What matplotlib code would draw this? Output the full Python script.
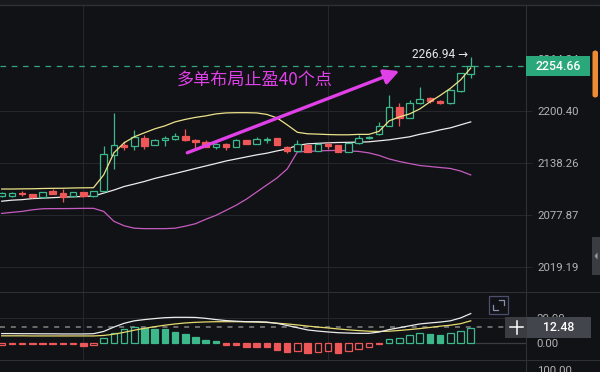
import matplotlib
matplotlib.use('Agg')
import matplotlib.pyplot as plt
import numpy as np
from matplotlib.patches import Rectangle, FancyBboxPatch, Polygon
from matplotlib.lines import Line2D
from matplotlib.ticker import FixedLocator, FixedFormatter, NullLocator

plt.rcParams['font.family'] = ['Roboto', 'DejaVu Sans']

# ---------------- data ----------------
opens = [2099.3, 2099.6, 2102.5, 2101.6, 2098.1, 2104.8, 2102.8, 2098.9, 2104.0, 2099.3,
         2105.1, 2147.5, 2159.1, 2158.2, 2168.1, 2159.4, 2165.7, 2166.2, 2170.2, 2165.0,
         2162.2, 2157.4, 2160.6, 2157.4, 2164.6, 2160.6, 2164.6, 2167.4, 2157.4, 2152.6,
         2159.4, 2152.6, 2160.3, 2158.8, 2151.4, 2161.4, 2167.4, 2172.2, 2182.5, 2205.3,
         2192.0, 2209.5, 2215.6, 2212.7, 2209.5, 2224.9, 2245.4]
highs = [2104.6, 2104.3, 2105.1, 2102.2, 2104.6, 2107.1, 2107.1, 2104.6, 2104.6, 2105.7,
         2158.2, 2197.3, 2163.4, 2177.3, 2171.4, 2166.6, 2170.5, 2173.4, 2178.2, 2166.2,
         2164.6, 2161.2, 2161.4, 2166.0, 2165.2, 2169.3, 2169.3, 2168.0, 2158.0, 2164.6,
         2160.0, 2161.2, 2162.2, 2159.4, 2162.0, 2171.4, 2169.9, 2187.3, 2219.6, 2209.5,
         2213.5, 2229.8, 2217.6, 2213.3, 2226.4, 2246.8, 2266.94]
lows = [2098.1, 2098.7, 2099.6, 2097.5, 2097.5, 2101.6, 2092.6, 2098.4, 2098.7, 2098.7,
        2104.6, 2130.5, 2153.4, 2153.4, 2154.6, 2158.8, 2158.6, 2165.6, 2164.2, 2156.2,
        2156.4, 2154.6, 2153.4, 2157.0, 2160.0, 2160.0, 2161.4, 2158.8, 2149.5, 2152.2,
        2150.8, 2152.0, 2154.3, 2150.8, 2150.8, 2160.9, 2166.8, 2171.6, 2181.9, 2182.5,
        2191.4, 2208.9, 2209.5, 2208.9, 2208.9, 2223.7, 2240.1]
closes = [2103.2, 2103.2, 2101.3, 2098.1, 2104.0, 2102.0, 2098.5, 2104.0, 2099.3, 2105.1,
          2148.3, 2159.4, 2156.7, 2168.6, 2158.6, 2165.4, 2167.4, 2170.2, 2165.4, 2162.2,
          2157.0, 2160.6, 2156.7, 2165.4, 2160.6, 2166.6, 2166.6, 2159.4, 2152.6, 2160.6,
          2151.4, 2160.6, 2158.6, 2151.4, 2161.4, 2167.4, 2169.3, 2182.5, 2204.6, 2192.0,
          2210.2, 2214.7, 2212.7, 2209.5, 2225.8, 2246.2, 2254.66]

boll_upper = [2107.5, 2107.5, 2107.7, 2107.8, 2108.1, 2108.3, 2108.4, 2108.7, 2108.9, 2109.0,
              2123.9, 2149.9, 2161.8, 2169.0, 2173.8, 2178.5, 2182.1, 2186.9, 2189.9, 2192.3,
              2194.1, 2196.5, 2197.7, 2198.0, 2198.0, 2197.7, 2195.9, 2191.7, 2183.3, 2174.4,
              2172.6, 2172.2, 2171.7, 2171.4, 2171.4, 2171.9, 2171.9, 2175.5, 2188.1, 2192.9,
              2196.5, 2202.5, 2211.1, 2219.0, 2227.6, 2238.0, 2252.7]
boll_mid = [2093.4, 2094.6, 2095.2, 2096.4, 2097.0, 2097.5, 2098.1, 2098.5, 2098.9, 2099.3,
            2102.8, 2106.3, 2110.4, 2113.3, 2116.3, 2119.8, 2122.7, 2125.6, 2128.5, 2131.5,
            2134.4, 2137.3, 2140.3, 2142.7, 2145.1, 2147.5, 2149.5, 2152.2, 2154.6, 2158.8,
            2160.6, 2161.2, 2161.8, 2162.2, 2162.4, 2162.6, 2163.0, 2164.2, 2165.4, 2167.2,
            2169.0, 2172.0, 2174.4, 2177.3, 2179.7, 2183.3, 2186.9]
boll_lower = [2079.4, 2080.6, 2081.7, 2083.5, 2084.7, 2084.9, 2084.9, 2085.0, 2085.2, 2085.2,
              2081.7, 2070.4, 2065.3, 2062.5, 2062.0, 2062.0, 2062.0, 2062.5, 2064.8, 2067.6,
              2072.6, 2077.1, 2082.9, 2088.8, 2095.8, 2104.0, 2112.2, 2120.4, 2130.9, 2151.0,
              2151.6, 2152.2, 2152.6, 2152.8, 2152.2, 2151.6, 2149.9, 2146.9, 2142.7, 2139.7,
              2137.3, 2135.0, 2133.8, 2132.6, 2131.5, 2128.5, 2123.9]

macd_dif = [7.3, 7.3, 7.2, 7.2, 7.1, 7.1, 7.0, 7.0, 7.0, 7.2,
            9.0, 12.5, 15.5, 17.5, 18.5, 19.3, 20.0, 20.3, 20.3, 20.2,
            19.5, 18.5, 17.7, 17.2, 16.8, 16.8, 16.5, 15.5, 13.8, 12.0,
            10.2, 9.3, 8.6, 8.0, 7.7, 7.5, 7.5, 8.5, 10.5, 12.0,
            13.5, 15.0, 15.8, 16.5, 17.5, 19.8, 23.3]
macd_dea = [5.5, 5.5, 5.5, 5.4, 5.4, 5.4, 5.4, 5.4, 5.4, 5.4,
            5.8, 6.8, 8.3, 10.0, 11.5, 12.8, 14.0, 15.0, 15.8, 16.3,
            16.6, 16.8, 16.8, 16.8, 16.7, 16.5, 16.2, 15.6, 15.0, 14.2,
            13.3, 12.5, 11.8, 11.0, 10.3, 9.7, 9.2, 9.0, 9.2, 9.8,
            10.5, 11.3, 12.2, 13.2, 14.0, 15.2, 17.5]
macd_hist = [-1.9, -1.3, -1.3, -1.3, -1.3, -1.3, -1.3, -1.3, -2.4, -2.0,
             3.5, 7.5, 11.0, 12.8, 11.5, 11.3, 10.7, 8.8, 7.2, 4.8,
             2.1, 1.0, -2.0, -2.2, -3.5, -3.6, -3.7, -5.9, -7.5, -6.7,
             -8.0, -7.2, -7.0, -8.5, -6.4, -5.3, -3.7, -1.3, 2.7, 3.5,
             6.1, 7.5, 6.9, 6.1, 7.5, 9.6, 11.5]

price_ticks = [2019.19, 2077.87, 2138.26, 2200.40, 2264.34]
price_tick_labels = ['2019.19', '2077.87', '2138.26', '2200.40', '2264.34']
macd_ticks = [0, 20]
macd_tick_labels = ['0.00', '20.00']
time_grid = [8, 32]
last_price = 2254.66
high_label = 2266.94
hist_last = 12.48
note_text = '多单布局止盈40个点'
note_pos = (17.2, 2238.0)
arrow_from = (18.2, 2150.0)
arrow_to = (39.0, 2249.0)

# ---------------- style ----------------
W, H = 600, 372
BG = '#111216'
GRID = '#25272c'
SEP = '#2e3035'
TICK = '#b3b3b3'
GREEN = '#3cb88a'
RED = '#ee5757'
MAG = '#e040e8'
UP_COL = '#ece38a'
MID_COL = '#ececec'
LOW_COL = '#c65bbf'
DASH_GREEN = '#35a57f'

fig = plt.figure(figsize=(W / 100, H / 100), dpi=100, facecolor=BG)

def fx(px):
    return px / W

def fy(py):
    return 1 - py / H

def add_line(xs, ys, color, lw=0.75, z=3, **kw):
    fig.add_artist(Line2D([fx(v) for v in xs], [fy(v) for v in ys],
                          transform=fig.transFigure, color=color, lw=lw, zorder=z, **kw))

def add_rect(x0, y0, x1, y1, fc, ec='none', lw=0, z=5):
    fig.add_artist(Rectangle((fx(x0), fy(y1)), fx(x1 - x0), (y1 - y0) / H,
                             transform=fig.transFigure, facecolor=fc, edgecolor=ec,
                             lw=lw, zorder=z))

ax = fig.add_axes([0, fy(292), fx(526), (292 - 5) / H])
axm = fig.add_axes([0, fy(360), fx(526), (360 - 292) / H])

n = len(closes)
x = np.arange(n)
XMIN, XMAX = -0.167, 51.42
bw = 0.64

for a in (ax, axm):
    a.set_facecolor(BG)
    for s in a.spines.values():
        s.set_visible(False)
    a.set_xlim(XMIN, XMAX)
    a.set_xticks([])
    for t in time_grid:
        a.axvline(t, color=GRID, lw=0.75, zorder=0)

# ---------- main price panel ----------
ax.set_yscale('log')
ax.set_ylim(1991.3, 2332.3)
ax.yaxis.tick_right()
ax.yaxis.set_major_locator(FixedLocator(price_ticks))
ax.yaxis.set_major_formatter(FixedFormatter(price_tick_labels))
ax.yaxis.set_minor_locator(NullLocator())
ax.tick_params(axis='y', length=4, width=0.75, color=GRID, pad=4.5,
               labelsize=8.2, labelcolor=TICK)
for t in price_ticks[:-1]:
    ax.axhline(t, color=GRID, lw=0.75, zorder=0)

ax.axhline(last_price, color=DASH_GREEN, lw=0.9, dashes=(4.5, 4.5), zorder=1)

for i in x:
    o, h, l, c = opens[i], highs[i], lows[i], closes[i]
    up = c >= o
    col = GREEN if up else RED
    top, bot = max(o, c), min(o, c)
    if top - bot < 1.0:
        mid = (top + bot) / 2
        top, bot = mid + 0.5, mid - 0.5
    ax.vlines(i, top, h, color=col, lw=0.9, zorder=3)
    ax.vlines(i, l, bot, color=col, lw=0.9, zorder=3)
    ax.add_patch(Rectangle((i - bw / 2, bot), bw, top - bot,
                           facecolor=BG if up else col, edgecolor=col, lw=0.9, zorder=4))

ax.plot(x, boll_lower, color=LOW_COL, lw=0.9, zorder=2)
ax.plot(x, boll_mid, color=MID_COL, lw=0.9, zorder=2)
ax.plot(x, boll_upper, color=UP_COL, lw=0.9, zorder=5)

ax.annotate('', xy=arrow_to, xytext=arrow_from,
            arrowprops=dict(arrowstyle='-|>,head_length=0.9,head_width=0.45',
                            color=MAG, lw=2.4, shrinkA=0, shrinkB=0, mutation_scale=10),
            zorder=6)
ax.text(note_pos[0], note_pos[1], note_text, color=MAG, fontsize=12.3, ha='left', va='center',
        fontfamily=['Noto Sans CJK SC', 'DejaVu Sans'], zorder=6)
ax.annotate(f'{high_label:.2f} \u2192', xy=(n - 1, high_label), xytext=(-2, 1.5),
            textcoords='offset points', ha='right', va='center', color='#e6e6e6',
            fontsize=8.6, fontfamily=['Roboto', 'DejaVu Sans'], zorder=6)

# ---------- MACD panel ----------
axm.set_ylim(-13.84, 40.56)
axm.yaxis.tick_right()
axm.yaxis.set_major_locator(FixedLocator(macd_ticks))
axm.yaxis.set_major_formatter(FixedFormatter(macd_tick_labels))
axm.tick_params(axis='y', length=0, pad=7.5, labelsize=8.2, labelcolor=TICK)
axm.axhline(20, color=GRID, lw=0.75, zorder=0)
axm.hlines(0, n - 0.6, XMAX, color='#3a3c41', lw=0.9, zorder=1)

hist = np.array(macd_hist)
rising = hist >= np.r_[hist[0], hist[:-1]]
cols = [GREEN if v >= 0 else RED for v in hist]
faces = [BG if r else c for r, c in zip(rising, cols)]
axm.bar(x, hist, width=bw, color=faces, edgecolor=cols, linewidth=0.9, zorder=2)
axm.axhline(hist_last, color='#7a7a7a', lw=1.2, dashes=(3, 3.5), zorder=1)
axm.plot(x, macd_dea, color='#e6da6e', lw=0.9, zorder=3)
axm.plot(x, macd_dif, color=MID_COL, lw=0.9, zorder=3)

# ---------- chrome ----------
add_rect(0, 0, 600, 4.5, '#18191c', z=2)
add_line([0, 600], [5, 5], SEP, lw=1.0)
add_line([526, 526], [5, 372], SEP, lw=0.8)
add_line([0, 600], [292, 292], SEP, lw=0.8)
add_line([0, 600], [360, 360], SEP, lw=0.8)

# last price label box
yd = ax.transData.transform((0, last_price))[1]
ypx = H - yd
add_rect(526, ypx - 10, 590, ypx + 10, '#2aa87c', z=6)
fig.text(fx(558), fy(ypx), f'{last_price:.2f}', color='white', fontsize=8.8,
         ha='center', va='center', zorder=7, fontweight='medium')

# scrollbar
fig.add_artist(FancyBboxPatch((fx(592.5), fy(98)), fx(5.5), 48 / H,
                              boxstyle='round,pad=0,rounding_size=0.008',
                              transform=fig.transFigure, facecolor='#ef8a35',
                              edgecolor='none', zorder=6))
# side tab
add_rect(592, 237, 600, 275, '#3a3c41', z=6)
fig.add_artist(Polygon([[fx(594.5), fy(256)], [fx(597.5), fy(252.5)], [fx(597.5), fy(259.5)]],
                       closed=True, transform=fig.transFigure, facecolor='#9a9ca2',
                       edgecolor='none', zorder=7))

# expand icon
fig.add_artist(Rectangle((fx(489), fy(314)), fx(19), 18 / H, transform=fig.transFigure,
                         facecolor='none', edgecolor='#4b5070', lw=0.9, zorder=6))
add_line([499, 504, 504], [300, 300, 305], '#8a8fae', lw=0.9, z=7)
add_line([493, 493, 498], [305, 310, 310], '#8a8fae', lw=0.9, z=7)

# MACD value box
ydm = axm.transData.transform((0, hist_last))[1]
ypm = H - ydm
add_rect(505, ypm - 10.5, 527, ypm + 10.5, '#3a3c42', z=6)
add_line([510, 523], [ypm, ypm], 'white', lw=1.1, z=7)
add_line([516.5, 516.5], [ypm - 6.5, ypm + 6.5], 'white', lw=1.1, z=7)
add_rect(527, ypm - 10.5, 591, ypm + 10.5, '#42454c', z=6)
fig.text(fx(559), fy(ypm), f'{hist_last:.2f}', color='white', fontsize=8.8,
         ha='center', va='center', zorder=7, fontweight='medium')
fig.text(fx(537), fy(371), '100.00', color=TICK, fontsize=8.2, ha='left', va='center', zorder=7)

fig.savefig('out.png', dpi=100, facecolor=BG)
